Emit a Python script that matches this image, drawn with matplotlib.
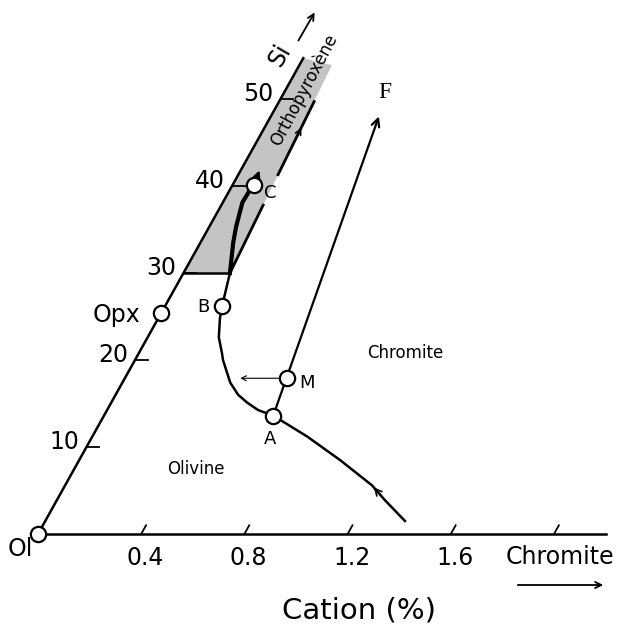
import matplotlib
matplotlib.use('Agg')
import matplotlib.pyplot as plt
from matplotlib.transforms import Affine2D
from matplotlib.patches import Polygon

# Ticks of the two oblique axes
chromite_ticks = [0.4, 0.8, 1.2, 1.6, 2.0]
chromite_labels = ['0.4', '0.8', '1.2', '1.6']
si_ticks = [10, 20, 30, 40, 50]
si_labels = ['10', '20', '30', '40', '50']

# Crystallisation path (chromite cation %, Si), from the lower end up to the field
path_c = [1.394, 1.271, 1.189, 1.011, 0.833, 0.708, 0.656, 0.585, 0.527, 0.475,
          0.418, 0.341, 0.322, 0.276, 0.239, 0.221, 0.18]
path_s = [1.5, 3.9, 5.6, 8.5, 11.2, 12.9, 13.6, 14.25, 15.1, 16.0,
          17.4, 20.0, 20.8, 22.6, 24.8, 26.2, 30.0]
# Thick segment inside the orthopyroxene field, up to C
opx_c = [0.18, 0.127, 0.104, 0.076, 0.078, 0.083]
opx_s = [30.0, 33.5, 35.3, 38.1, 39.5, 40.1]

# Orthopyroxene field
field_c = [0, 0.18, 0.126, 0]
field_s = [30, 30, 53.9, 54.7]

# Named points: Ol, Opx, B, A, M, C
pt_c = [0, 0, 0.221, 0.656, 0.628, 0.083]
pt_s = [0, 25.4, 26.2, 13.6, 17.9, 40.1]

# A -> M -> F line end, and M arrow end
f_tip = (0.419, 48.0)
m_arrow_end = (0.447, 17.9)

fig = plt.figure(figsize=(6.32, 6.31), dpi=100)
ax = fig.add_axes([0, 0, 1, 1])
ax.set_xlim(0, 632)
ax.set_ylim(631, 0)
ax.axis('off')

# oblique frame: chromite along x, Si tilted
obl = Affine2D.from_values(258, 0, 4.85, -8.7, 38, 534)
tr = obl + ax.transData

def pix(c, s):
    return obl.transform((c, s))

# field
ax.add_patch(Polygon(list(zip(field_c, field_s)), closed=True, transform=tr,
                     facecolor='#c4c4c4', edgecolor='none', zorder=1))

# axes
ax.plot([0, 2.2], [0, 0], color='black', lw=1.8, transform=tr, zorder=2)
ax.plot([0, 0], [0, 54.7], color='black', lw=1.8, transform=tr, zorder=2)
ax.plot([field_c[0], field_c[1]], [30, 30], color='black', lw=1.8, transform=tr, zorder=2)

for c in chromite_ticks:
    ax.plot([c, c], [0, 1.0], color='black', lw=1.3, transform=tr)
for c, lab in zip(chromite_ticks, chromite_labels):
    x, y = pix(c, 0)
    ax.text(x + 4, 558, lab, fontsize=17, ha='center', va='center')

for s, lab in zip(si_ticks, si_labels):
    ax.plot([0, 0.05], [s, s], color='black', lw=1.3, transform=tr)
    x, y = pix(0, s)
    ax.text(x - 7, y - 5, lab, fontsize=17, ha='right', va='center')

# right edge of the field
ax.plot([0.18, 0.162], [30, 37.8], color='black', lw=2, transform=tr)
ax.plot([0.154, 0.136], [41.3, 49.7], color='black', lw=2, transform=tr)
ax.annotate('', xy=(0.142, 47.0), xytext=(0.150, 43.5), xycoords=tr, textcoords=tr,
            arrowprops=dict(arrowstyle='->', color='black', lw=1.2, mutation_scale=10))

# crystallisation path
ax.plot(path_c, path_s, color='black', lw=1.8, transform=tr, zorder=3,
        solid_joinstyle='round')
ax.plot(opx_c, opx_s, color='black', lw=3, transform=tr, zorder=3,
        solid_joinstyle='round')
ax.annotate('', xy=(path_c[2], path_s[2]), xytext=(path_c[1], path_s[1]),
            xycoords=tr, textcoords=tr,
            arrowprops=dict(arrowstyle='->', color='black', lw=1.2, mutation_scale=12))
for ds in (1.2, 2.0):
    ax.annotate('', xy=(opx_c[-1] - 0.012, opx_s[-1] + ds),
                xytext=(opx_c[-1], opx_s[-1]), xycoords=tr, textcoords=tr,
                arrowprops=dict(arrowstyle='->', color='black', lw=1.8, mutation_scale=10))

# A -> M -> F
ax.annotate('', xy=f_tip, xytext=(pt_c[3], pt_s[3]), xycoords=tr, textcoords=tr,
            arrowprops=dict(arrowstyle='->', color='black', lw=1.6, mutation_scale=14,
                            shrinkA=0, shrinkB=0), zorder=3)
ax.annotate('', xy=m_arrow_end, xytext=(pt_c[4], pt_s[4]), xycoords=tr, textcoords=tr,
            arrowprops=dict(arrowstyle='->', color='black', lw=0.8, mutation_scale=9,
                            shrinkA=6, shrinkB=0), zorder=3)

# points
ax.plot(pt_c, pt_s, 'o', transform=tr, mfc='white', mec='black', ms=11, mew=1.6, zorder=5)

# labels
ax.text(20, 549, 'Ol', fontsize=17, ha='center', va='center')
ax.text(117, 315, 'Opx', fontsize=17, ha='center', va='center')
ax.text(203, 307, 'B', fontsize=13, ha='center', va='center')
ax.text(270, 439, 'A', fontsize=13, ha='center', va='center')
ax.text(307, 383, 'M', fontsize=13, ha='center', va='center')
ax.text(270, 193, 'C', fontsize=13, ha='center', va='center')
ax.text(385, 93, 'F', fontsize=17, ha='center', va='center', family='Liberation Serif')
ax.text(405, 353, 'Chromite', fontsize=12, ha='center', va='center')
ax.text(196, 469, 'Olivine', fontsize=12, ha='center', va='center')
ax.text(304, 90, 'Orthopyroxène', fontsize=12, ha='center', va='center', rotation=62)
ax.text(280, 55, 'Si', fontsize=17, ha='center', va='center', rotation=60)
ax.annotate('', xy=(316, 10), xytext=(297, 43),
            arrowprops=dict(arrowstyle='->', color='black', lw=1.3, mutation_scale=11))
ax.text(560, 557, 'Chromite', fontsize=17, ha='center', va='center')
ax.annotate('', xy=(606, 585), xytext=(515, 585),
            arrowprops=dict(arrowstyle='->', color='black', lw=1.3, mutation_scale=11))
ax.text(359, 611, 'Cation (%)', fontsize=21, ha='center', va='center')

fig.savefig('out.png', dpi=100)
